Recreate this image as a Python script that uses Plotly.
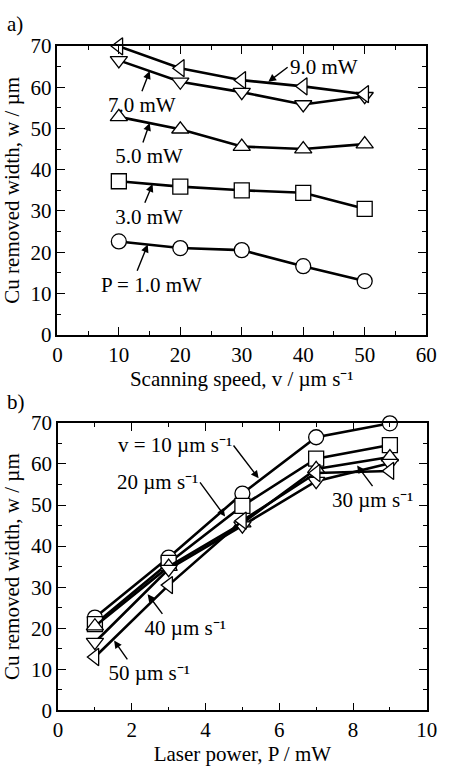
import plotly.graph_objects as go

# ---- data ----
speeds = [10, 20, 30, 40, 50]          # scanning speed, um/s
powers = [1.0, 3.0, 5.0, 7.0, 9.0]     # laser power, mW
w_P1 = [22.6, 21.0, 20.5, 16.6, 13.0]
w_P3 = [37.2, 35.9, 35.0, 34.4, 30.5]
w_P5 = [52.8, 49.8, 45.6, 45.0, 46.2]
w_P7 = [66.5, 61.3, 58.8, 55.8, 57.8]
w_P9 = [69.9, 64.6, 61.7, 60.2, 58.3]
power_labels = ["P = 1.0 mW", "3.0 mW", "5.0 mW", "7.0 mW", "9.0 mW"]
speed_labels = ["v = 10 µm s⁻¹", "20 µm s⁻¹", "30 µm s⁻¹", "40 µm s⁻¹", "50 µm s⁻¹"]
symbols = ["circle", "square", "triangle-up", "triangle-down", "triangle-left"]

W = [w_P1, w_P3, w_P5, w_P7, w_P9]

FONT = "Liberation Serif"
FS = 21
fig = go.Figure()

def add_series(x, y, sym, xa, ya):
    fig.add_trace(go.Scatter(
        x=x, y=y, mode="lines+markers", xaxis=xa, yaxis=ya, cliponaxis=False,
        line=dict(color="black", width=2.6),
        marker=dict(symbol=sym, size=15, color="white",
                    line=dict(color="black", width=1.3)),
        showlegend=False))

# panel a: w vs speed for each power
for i, p in enumerate(powers):
    add_series(speeds, W[i], symbols[i], "x", "y")

# panel b: w vs power for each speed
for j, v in enumerate(speeds):
    add_series(powers, [W[i][j] for i in range(len(powers))], symbols[j], "x2", "y2")

axis_common = dict(showline=True, linecolor="black", linewidth=1.5, mirror="allticks",
                   ticks="inside", ticklen=8, tickwidth=1.3, tickcolor="black",
                   showgrid=False, zeroline=False,
                   tickfont=dict(family=FONT, size=FS, color="black"),
                   title_font=dict(family=FONT, size=FS, color="black"))
minor_common = dict(ticklen=4, ticks="inside", tickcolor="black", tickwidth=1.3)

fig.update_layout(
    width=450, height=776, margin=dict(l=0, r=0, t=0, b=0),
    plot_bgcolor="white", paper_bgcolor="white",
    font=dict(family=FONT, color="black"),
    xaxis=dict(domain=[0.1207, 0.9704], anchor="y", range=[0, 60], dtick=10,
               minor=dict(dtick=5, **minor_common),
               title=dict(text="Scanning speed, v / µm s⁻¹", standoff=4), **axis_common),
    yaxis=dict(domain=[0.5709, 0.9549], anchor="x", range=[0, 70], dtick=10,
               minor=dict(dtick=5, **minor_common),
               title=dict(text="Cu removed width, w / µm", standoff=13), **axis_common),
    xaxis2=dict(domain=[0.1222, 0.9718], anchor="y2", range=[0, 10], dtick=2,
                minor=dict(dtick=1, **minor_common),
                title=dict(text="Laser power, P / mW", standoff=4), **axis_common),
    yaxis2=dict(domain=[0.0713, 0.4536], anchor="x2", range=[0, 70], dtick=10,
                minor=dict(dtick=5, **minor_common),
                title=dict(text="Cu removed width, w / µm", standoff=13), **axis_common),
)

def labelled_arrow(xr, yr, text, head, tail, xanchor, yanchor, width=None, align="center"):
    kw = dict(width=width) if width else {}
    fig.add_annotation(x=head[0], y=head[1], ax=tail[0], ay=tail[1],
                       xref=xr, yref=yr, axref=xr, ayref=yr,
                       text=text, showarrow=True, arrowhead=2, arrowsize=1.1,
                       arrowwidth=1.4, arrowcolor="black", standoff=0,
                       xanchor=xanchor, yanchor=yanchor, align=align,
                       font=dict(family=FONT, size=FS, color="black"), **kw)

# panel a: (head, tail, xanchor, yanchor, box width, align)
a_pos = [((14.70, 21.85), (12.98, 15.5), "center", "top", 130, "right"),
         ((15.49, 36.50), (14.23, 32.0), "center", "top", 76, "right"),
         ((15.02, 51.30), (13.92, 46.6), "center", "top", 80, "right"),
         ((15.02, 63.90), (13.76, 59.0), "center", "top", None, "center"),
         ((34.32, 61.30), (37.46, 64.83), "left", "middle", None, "center")]
for lab, (hd, tl, xa, ya, wd, al) in zip(power_labels, a_pos):
    labelled_arrow("x", "y", lab, hd, tl, xa, ya, wd, al)

b_pos = [((5.44, 56.50), (4.76, 64.5), "right", "middle", None, "center"),
         ((4.53, 47.20), (3.85, 55.5), "right", "middle", None, "center"),
         ((8.11, 59.60), (8.53, 54.6), "center", "top", None, "center"),
         ((2.43, 28.30), (2.83, 23.5), "center", "top", 128, "right"),
         ((1.52, 17.00), (1.88, 12.4), "center", "top", 126, "right")]
for lab, (hd, tl, xa, ya, wd, al) in zip(speed_labels, b_pos):
    labelled_arrow("x2", "y2", lab, hd, tl, xa, ya, wd, al)

# panel letters
fig.add_annotation(x=0, y=1 - 12 / 776, xref="paper", yref="paper", text="a)",
                   showarrow=False, xanchor="left", yanchor="middle",
                   font=dict(family=FONT, size=FS, color="black"))
fig.add_annotation(x=0, y=1 - 402 / 776, xref="paper", yref="paper", text="b)",
                   showarrow=False, xanchor="left", yanchor="middle",
                   font=dict(family=FONT, size=FS, color="black"))

fig.write_html("out.html")
